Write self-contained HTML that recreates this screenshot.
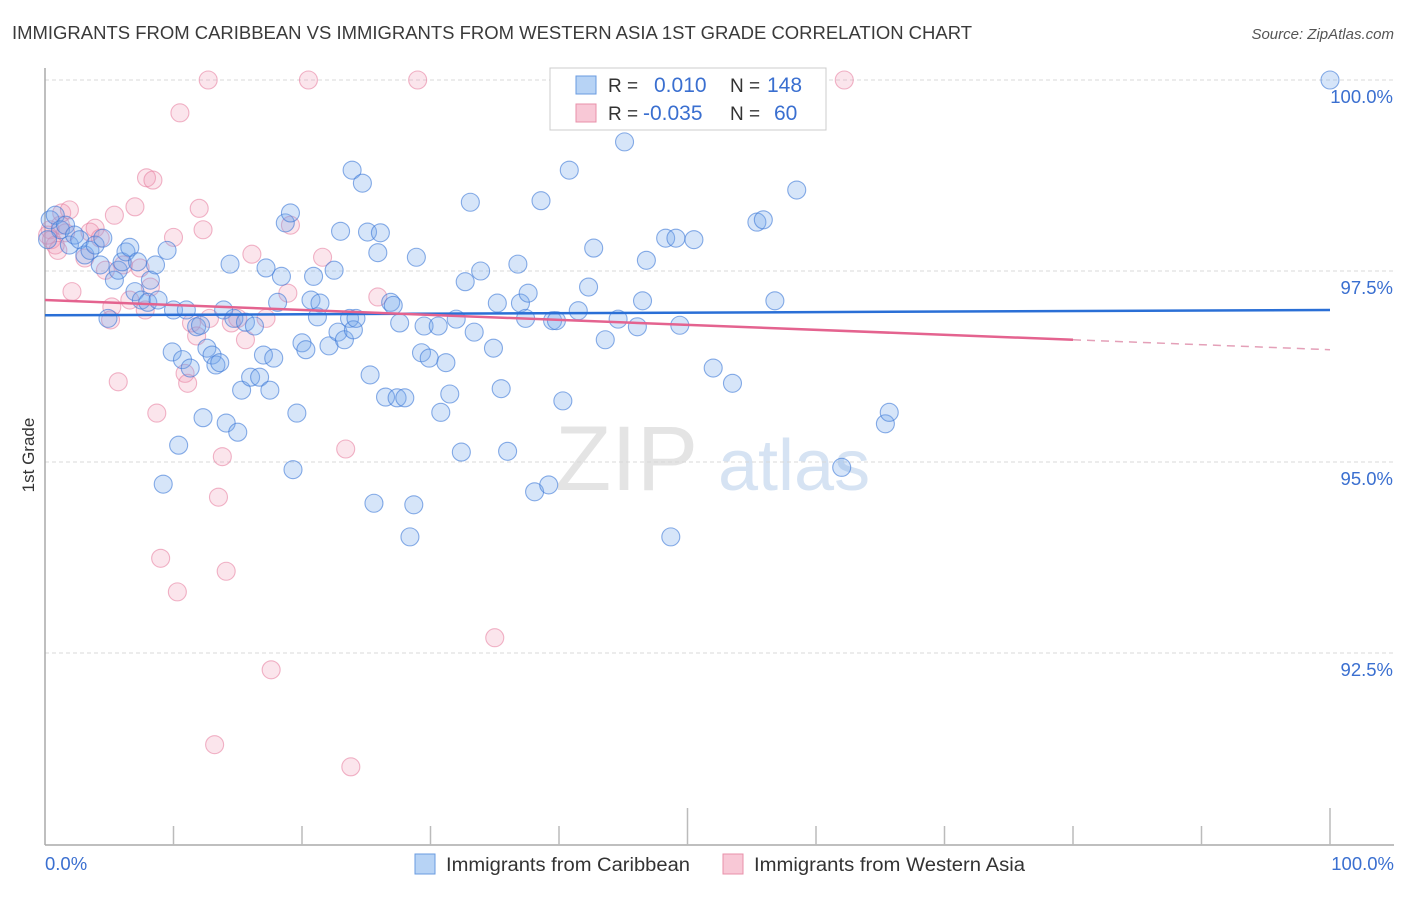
<!DOCTYPE html>
<html><head><meta charset="utf-8"><style>
body{margin:0;background:#fff;font-family:"Liberation Sans",sans-serif;}
svg text{font-family:"Liberation Sans",sans-serif;}
</style></head><body>
<svg id="chart" width="1406" height="892" xmlns="http://www.w3.org/2000/svg">
<text x="12" y="39" font-size="18" fill="#3a3a3a" textLength="960" lengthAdjust="spacingAndGlyphs">IMMIGRANTS FROM CARIBBEAN VS IMMIGRANTS FROM WESTERN ASIA 1ST GRADE CORRELATION CHART</text>
<text x="1394" y="39" font-size="15" fill="#555" text-anchor="end" font-style="italic">Source: ZipAtlas.com</text>
<text x="555" y="490" font-size="92" fill="#e4e4e4" font-family="Liberation Serif">ZIP</text>
<text x="718" y="490" font-size="72" fill="#d6e3f3">atlas</text>
<g id="grid"></g>
<g id="axes"></g>
<g id="pinkpts"></g>
<g id="bluepts"></g>
<g id="trends"></g>
<text transform="translate(34,455) rotate(-90)" font-size="17" fill="#333" text-anchor="middle">1st Grade</text>
<g>
<rect x="550" y="68" width="276" height="62" fill="#fff" stroke="#ccc"/>
<rect x="576" y="76" width="20" height="18" fill="#b7d3f5" stroke="#6a9be0"/>
<rect x="576" y="104" width="20" height="18" fill="#f8c8d6" stroke="#e890aa"/>
<text x="608" y="92" font-size="19" fill="#333">R =</text>
<text x="654" y="92" font-size="21" fill="#3a6fd0">0.010</text>
<text x="730" y="92" font-size="19" fill="#333">N =</text>
<text x="767" y="92" font-size="21" fill="#3a6fd0">148</text>
<text x="608" y="120" font-size="19" fill="#333">R =</text>
<text x="643" y="120" font-size="21" fill="#3a6fd0">-0.035</text>
<text x="730" y="120" font-size="19" fill="#333">N =</text>
<text x="774" y="120" font-size="21" fill="#3a6fd0">60</text>
</g>
<g>
<rect x="415" y="854" width="20" height="20" fill="#b7d3f5" stroke="#6a9be0"/>
<text x="446" y="871" font-size="19" fill="#333" textLength="244" lengthAdjust="spacingAndGlyphs">Immigrants from Caribbean</text>
<rect x="723" y="854" width="20" height="20" fill="#f8c8d6" stroke="#e890aa"/>
<text x="754" y="871" font-size="19" fill="#333" textLength="271" lengthAdjust="spacingAndGlyphs">Immigrants from Western Asia</text>
</g>
</svg>
<script>
const yTicks=[100,97.5,95,92.5];
const yTickLabels=["100.0%","97.5%","95.0%","92.5%"];
const xEndLabels=["0.0%","100.0%"];
const blueX=[0.4,0.8,1.2,1.6,0.2,1.9,2.3,2.7,3.1,3.5,3.9,4.3,4.5,4.9,5.4,5.7,6.0,6.3,6.6,7.0,7.2,7.5,8.0,8.2,8.6,8.8,9.2,9.5,9.9,10.0,10.4,10.7,11.0,11.3,11.8,12.1,12.3,12.6,13.0,13.3,13.6,13.9,14.1,14.4,14.7,15.0,15.3,15.6,16.0,16.3,16.7,17.0,17.2,17.5,17.8,18.1,18.4,18.7,19.1,19.3,19.6,20.0,20.3,20.7,20.9,21.2,21.4,22.1,22.5,22.8,23.0,23.3,23.7,23.9,24.0,24.2,24.7,25.1,25.3,25.6,25.9,26.1,26.5,26.9,27.1,27.4,27.6,28.0,28.4,28.7,28.9,29.3,29.5,29.9,30.6,30.8,31.2,31.5,32.0,32.4,32.7,33.1,33.4,33.9,34.9,35.2,35.5,36.0,36.8,37.0,37.4,37.6,38.1,38.6,39.2,39.5,39.8,40.3,40.8,41.5,42.3,42.7,43.6,44.6,45.1,46.1,46.5,46.8,48.3,48.7,49.1,49.4,50.5,52.0,52.5,53.5,55.4,55.9,56.8,58.5,62.0,65.4,65.7,100];
const blueY=[98.17,98.23,98.04,98.10,97.91,97.84,97.97,97.91,97.71,97.77,97.84,97.58,97.93,96.88,97.38,97.51,97.62,97.75,97.81,97.23,97.62,97.12,97.09,97.38,97.58,97.12,94.71,97.77,96.44,96.99,95.22,96.34,96.99,96.23,96.77,96.79,95.58,96.49,96.40,96.27,96.30,96.99,95.51,97.59,96.88,95.39,95.94,96.83,96.11,96.78,96.11,96.40,97.54,95.94,96.36,97.09,97.43,98.13,98.26,94.90,95.64,96.56,96.47,97.12,97.43,96.90,97.08,96.52,97.51,96.70,98.02,96.60,96.88,98.82,96.73,96.88,98.65,98.01,96.14,94.46,97.74,98.00,95.85,97.09,97.05,95.84,96.82,95.84,94.02,94.44,97.68,96.43,96.78,96.36,96.78,95.65,96.30,95.89,96.87,95.13,97.36,98.40,96.70,97.50,96.49,97.08,95.96,95.14,97.59,97.08,96.88,97.21,94.61,98.42,94.70,96.85,96.85,95.80,98.82,96.98,97.29,97.80,96.60,96.87,99.19,96.77,97.11,97.64,97.93,94.02,97.93,96.79,97.91,96.23,100,96.03,98.14,98.17,97.11,98.56,94.93,95.50,95.65,100];
const pinkX=[0.4,0.5,0.8,1.2,1.3,1.9,2.1,3.1,3.5,3.9,4.3,4.7,5.1,5.4,5.7,6.1,6.6,7.0,7.4,7.8,7.9,8.2,8.4,8.7,9.0,10.0,10.3,10.5,10.9,11.1,11.4,11.8,12.0,12.3,12.7,12.8,13.2,13.5,13.8,14.1,14.5,15.0,15.6,16.1,17.2,17.6,18.9,19.1,20.5,21.6,23.4,23.8,25.9,29.0,35.0,62.2,0.2,1.0,5.2,1.6];
const pinkY=[98.04,97.91,97.84,98.10,98.26,98.30,97.23,97.67,98.01,98.06,97.93,97.51,96.86,98.23,96.05,97.58,97.12,98.34,97.54,96.99,98.72,97.29,98.69,95.64,93.74,97.94,93.30,99.57,96.16,96.03,96.82,96.65,98.32,98.04,100,96.88,91.30,94.54,95.07,93.57,96.82,96.88,96.60,97.72,96.88,92.28,97.21,98.10,100,97.68,95.17,91.01,97.16,100,92.70,100,97.97,97.77,97.03,98.0];
const blueTrend=[96.92,96.99];
const pinkTrend=[97.12,96.47];
const pinkSolidEnd=80;
const NS="http://www.w3.org/2000/svg";
const X0=45,X1=1330,Y100=80,PX_PER=76.4;
function sx(v){return X0+(X1-X0)*v/100;}
function sy(v){return Y100+(100-v)*PX_PER;}
function mk(tag,attrs,parent){const e=document.createElementNS(NS,tag);for(const k in attrs)e.setAttribute(k,attrs[k]);parent.appendChild(e);return e;}
const grid=document.getElementById('grid');
yTicks.forEach((t,i)=>{
  const l=mk('line',{x1:X0,x2:1394,y1:sy(t),y2:sy(t),stroke:'#d8d8d8','stroke-dasharray':'4,3'},grid);
  
  
  const tx=mk('text',{x:1393,y:sy(t)+23,'font-size':18.5,fill:'#3a6fd0','text-anchor':'end'},grid);
  tx.textContent=yTickLabels[i];
  
  
});
const axes=document.getElementById('axes');
const ya=mk('line',{x1:X0,x2:X0,y1:68,y2:845,stroke:'#aaa','stroke-width':1.5},axes);


const xa=mk('line',{x1:X0,x2:1394,y1:845,y2:845,stroke:'#aaa','stroke-width':1.5},axes);


for(let i=1;i<=10;i++){
  const v=i*10;
  const tk=mk('line',{x1:sx(v),x2:sx(v),y1:(i==5||i==10)?808:826,y2:845,stroke:'#bbb','stroke-width':1.5},axes);
  
  
}
const xl0=mk('text',{x:X0,y:870,'font-size':18.5,fill:'#3a6fd0'},axes);xl0.textContent=xEndLabels[0];


const xl1=mk('text',{x:1394,y:870,'font-size':18.5,fill:'#3a6fd0','text-anchor':'end'},axes);xl1.textContent=xEndLabels[1];


const pg=document.getElementById('pinkpts');
pinkX.forEach((x,i)=>{
  const c=mk('circle',{cx:sx(x),cy:sy(pinkY[i]),r:9,fill:'rgba(240,150,180,0.25)',stroke:'rgba(230,120,155,0.55)','stroke-width':1.1},pg);
  
  
});
const bg=document.getElementById('bluepts');
blueX.forEach((x,i)=>{
  const c=mk('circle',{cx:sx(x),cy:sy(blueY[i]),r:9,fill:'rgba(120,170,235,0.3)',stroke:'rgba(60,120,215,0.6)','stroke-width':1.1},bg);
  
  
});
const tg=document.getElementById('trends');
const bt=mk('line',{x1:sx(0),x2:sx(100),y1:sy(blueTrend[0]),y2:sy(blueTrend[1]),stroke:'#2a6fd6','stroke-width':2.5},tg);


const pm=pinkTrend[0]+(pinkTrend[1]-pinkTrend[0])*pinkSolidEnd/100;
const pt=mk('line',{x1:sx(0),x2:sx(pinkSolidEnd),y1:sy(pinkTrend[0]),y2:sy(pm),stroke:'#e4638f','stroke-width':2.5},tg);


const pd=mk('line',{x1:sx(pinkSolidEnd),x2:sx(100),y1:sy(pm),y2:sy(pinkTrend[1]),stroke:'#e4a0b8','stroke-width':1.5,'stroke-dasharray':'8,6'},tg);


</script>
</body></html>
